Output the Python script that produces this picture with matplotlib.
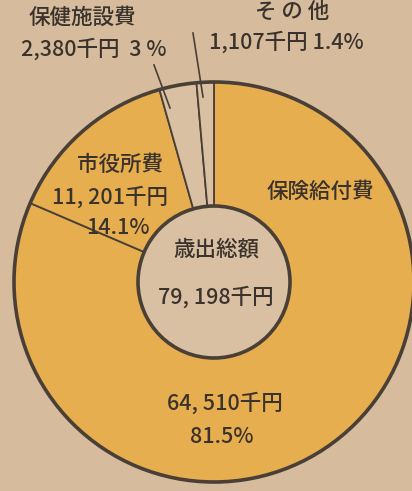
import matplotlib.pyplot as plt

plt.rcParams['font.family'] = ['Noto Sans CJK JP', 'DejaVu Sans']

# data
categories = ['保険給付費', '市役所費', '保健施設費', 'その他']
values = [64510, 11201, 2380, 1107]
total = 79198

bg = '#d6bc9d'
orange = '#e6ae4e'
beige = '#d9c0a2'
ink = '#4a3f36'

fig = plt.figure(figsize=(4.12, 4.91), dpi=100, facecolor=bg)
ax = fig.add_axes([0, 0, 1, 1])
ax.set_facecolor(bg)

cx, cy, r_out, r_in = 214, 282, 200, 76

# y axis is inverted, so counterclock=True runs clockwise on screen
wedges, _ = ax.pie(values, center=(cx, cy), radius=r_out, startangle=-90,
                   counterclock=True, colors=[orange, orange, beige, beige],
                   wedgeprops=dict(width=r_out - r_in, edgecolor=ink, linewidth=1.3),
                   frame=True)
ax.set_xlim(0, 412)
ax.set_ylim(491, 0)
ax.set_aspect('equal')
ax.axis('off')

ax.add_patch(plt.Circle((cx, cy), r_out, fill=False, edgecolor=ink, linewidth=2.6, zorder=5))
ax.add_patch(plt.Circle((cx, cy), r_in, facecolor=beige, edgecolor=ink, linewidth=2.6, zorder=5))

tc = '#3a322c'
fs = 15.5
kw = dict(ha='center', va='center', fontsize=fs, color=tc, fontweight='medium')

# labels
ax.text(82, 18, categories[2], **kw)
ax.text(94, 49, f'{values[2]:,}千円  3 %', **kw)
ax.plot([154, 170], [65, 108], color=ink, lw=1.2)

ax.text(292, 12, 'そ の 他', **kw)
ax.text(286, 42, f'{values[3]:,}千円 1.4%', **kw)
ax.plot([193, 203], [33, 97], color=ink, lw=1.2)

ax.text(120, 165, categories[1], **kw)
ax.text(110, 197, f'{values[1]:,}千円'.replace(',', ', '), **kw)
ax.text(118, 228, '14.1%', **kw)

ax.text(320, 192, categories[0], **kw)
ax.text(225, 403, f'{values[0]:,}千円'.replace(',', ', '), **kw)
ax.text(222, 437, '81.5%', **kw)

ax.text(216, 250, '歳出総額', zorder=6, **kw)
ax.text(216, 297, f'{total:,}千円'.replace(',', ', '), zorder=6, **kw)

fig.savefig('out.png', dpi=100, facecolor=bg)
